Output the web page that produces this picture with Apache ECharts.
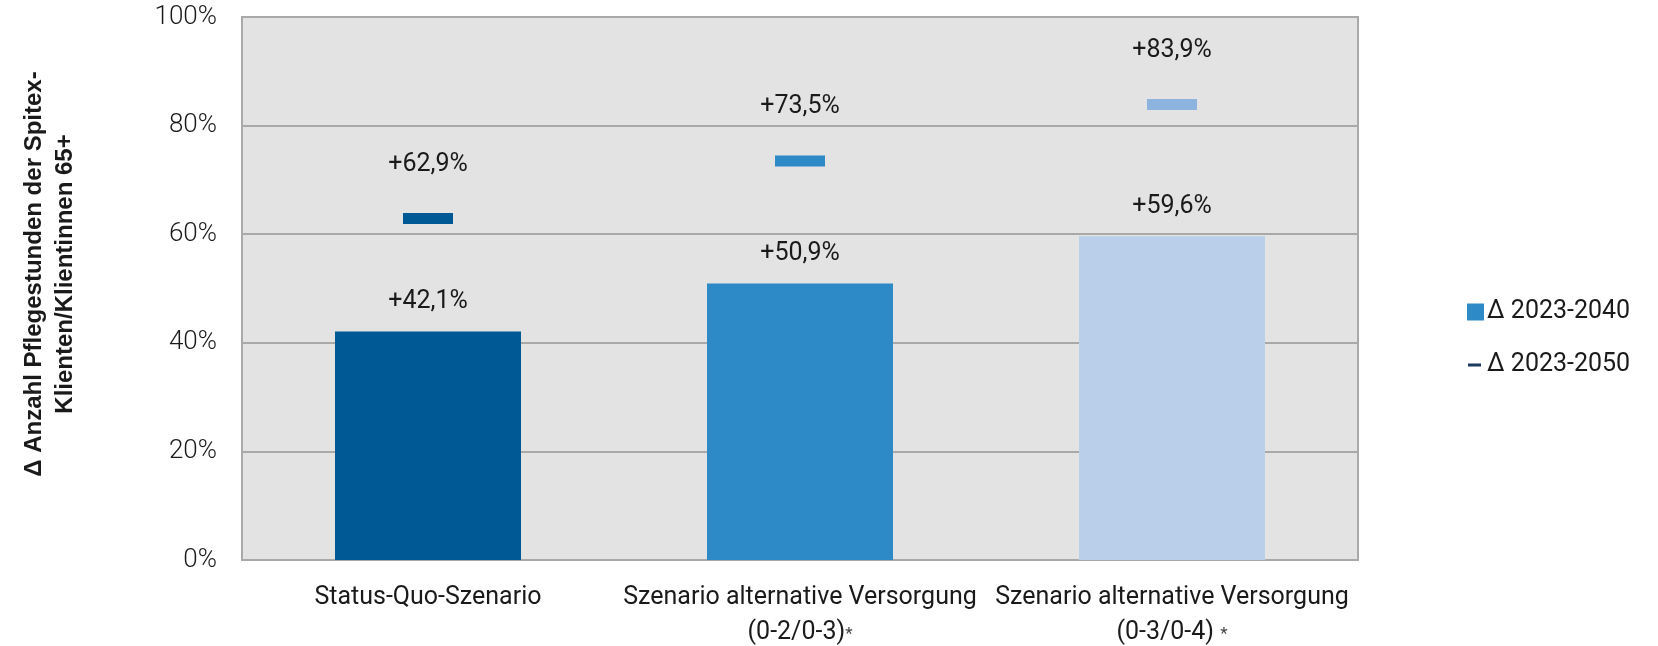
<!DOCTYPE html>
<html>
<head>
<meta charset="utf-8">
<title>Pflegestunden Spitex</title>
<script src="https://cdn.jsdelivr.net/npm/echarts@6/dist/echarts.min.js"></script>
<style>
  html, body { margin: 0; padding: 0; background: #fff; }
  #main { width: 1658px; height: 646px; }
</style>
</head>
<body>
<div id="main"></div>
<script>
// Daten
var categories = [
  'Status-Quo-Szenario',
  'Szenario alternative Versorgung\n{p|(0-2/0-3)}{s|*}',
  'Szenario alternative Versorgung\n{p|(0-3/0-4)} {s|*}'
];
var values2040 = [42.1, 50.9, 59.6];
var values2050 = [62.9, 73.5, 83.9];
var seriesNames = ['Δ 2023-2040', 'Δ 2023-2050'];
var yTicks = [0, 20, 40, 60, 80, 100];

var barColors = ['#005995', '#2d8ac6', '#b9cfea'];
var markColors = ['#005995', '#2d8ac6', '#8db4de'];

function fmt(v) {
  return '+' + v.toFixed(1).replace('.', ',') + '%';
}

var myChart = echarts.init(document.getElementById('main'));

var option = {
  backgroundColor: '#fff',
  animation: false,
  textStyle: { fontFamily: 'Roboto' },
  grid: {
    left: 242, right: 300, top: 17, bottom: 86,
    outerBoundsMode: 'none',
    containLabel: false,
    show: true,
    backgroundColor: '#e3e3e3',
    borderColor: '#a9a9a9',
    borderWidth: 2
  },
  legend: {
    orient: 'vertical',
    left: 1462,
    top: 292,
    itemWidth: 17,
    itemHeight: 17,
    itemGap: 23,
    textStyle: { fontFamily: 'Roboto', fontSize: 25, color: '#1a1a1a', lineHeight: 30, padding: [0, 0, 0, -2] },
    data: [
      { name: seriesNames[0], icon: 'rect', itemStyle: { color: '#2d8ac6' } },
      { name: seriesNames[1], icon: 'path://M0,0M17,17M1,7H14V10H1Z', itemStyle: { color: '#1b3a5e' } }
    ]
  },
  graphic: [{
    type: 'text',
    x: 50,
    y: 274,
    rotation: Math.PI / 2,
    style: {
      text: 'Δ Anzahl Pflegestunden der Spitex-\nKlienten/Klientinnen 65+',
      font: 'bold 24px "Liberation Sans"',
      fill: '#1a1a1a',
      align: 'center',
      verticalAlign: 'middle',
      lineHeight: 31
    }
  }],
  xAxis: {
    type: 'category',
    data: categories,
    axisLine: { show: true, lineStyle: { color: '#a9a9a9', width: 2 } },
    axisTick: { show: false },
    axisLabel: {
      interval: 0,
      margin: 20,
      fontFamily: 'Roboto',
      fontSize: 25,
      color: '#1a1a1a',
      lineHeight: 35,
      rich: {
        p: { fontFamily: 'Roboto', fontSize: 25, color: '#1a1a1a', lineHeight: 35 },
        s: { fontFamily: 'Roboto', fontSize: 17, color: '#444', lineHeight: 35, padding: [4, 0, 0, 0] }
      }
    }
  },
  yAxis: {
    type: 'value',
    min: yTicks[0],
    max: yTicks[yTicks.length - 1],
    interval: 20,
    axisLine: { show: false },
    axisTick: { show: false },
    splitLine: { lineStyle: { color: '#a9a9a9', width: 2 } },
    axisLabel: {
      margin: 25,
      fontFamily: 'Roboto',
      fontWeight: 300,
      fontSize: 26,
      color: '#1a1a1a',
      formatter: '{value}%'
    }
  },
  series: [
    {
      name: seriesNames[0],
      type: 'bar',
      barWidth: '50%',
      itemStyle: { color: '#2d8ac6' },
      data: values2040.map(function (v, i) {
        return { value: v, itemStyle: { color: barColors[i] } };
      }),
      label: {
        show: true,
        position: 'top',
        distance: 17,
        fontFamily: 'Roboto',
        fontSize: 25,
        color: '#1a1a1a',
        formatter: function (p) { return fmt(p.value); }
      }
    },
    {
      name: seriesNames[1],
      type: 'scatter',
      symbol: 'rect',
      symbolSize: [50, 11],
      itemStyle: { color: '#1b3a5e', opacity: 1 },
      data: values2050.map(function (v, i) {
        return { value: v, itemStyle: { color: markColors[i] } };
      }),
      label: {
        show: true,
        position: 'top',
        distance: 36,
        fontFamily: 'Roboto',
        fontSize: 25,
        color: '#1a1a1a',
        formatter: function (p) { return fmt(p.value); }
      }
    }
  ]
};

myChart.setOption(option);
</script>
</body>
</html>
